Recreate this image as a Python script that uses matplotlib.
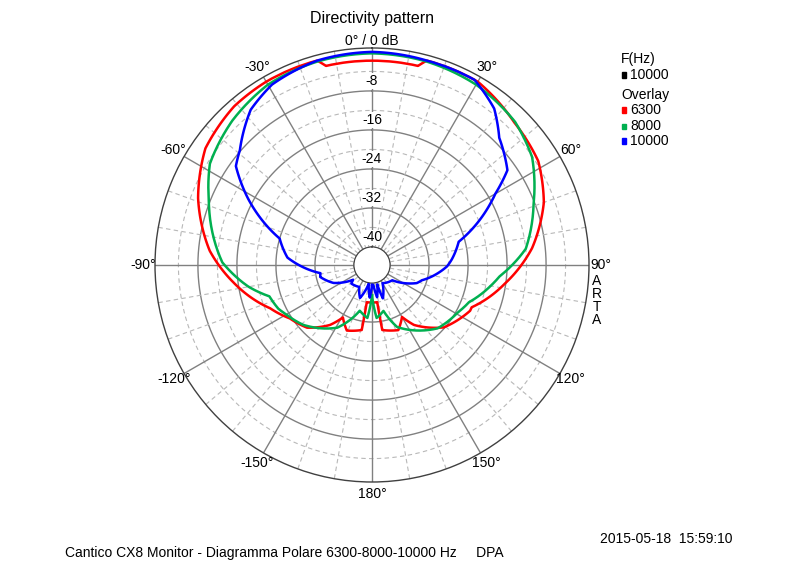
import numpy as np
import matplotlib
matplotlib.use("Agg")
import matplotlib.pyplot as plt
plt.rcParams['font.family'] = ['Liberation Sans', 'DejaVu Sans']

red_ang = [-180,-172,-171,-159,-151,-145,-134,-123,-113,-97,-85,-69,-55,-41,-30,-15,-13,
           0,13,15,30,45,58,70,84,98,113,115,131,145,150,158,171,172,180]
red = [-36,-36,-30.2,-29.3,-31.4,-28.7,-25.2,-23.6,-21,-15,-10.3,-5.5,-2,-0.6,-0.3,-0.3,-1.8,
       -1.8,-1.8,-0.3,-0.3,-2.4,-3.5,-6.2,-10.7,-16.2,-21.5,-21.5,-24.2,-28.7,-31.4,-29.3,-30.2,-36,-36]
green_ang = [-180,-175,-165,-151,-131,-120,-115,-107,-100,-89,-68,-58,-44,-30,-15,
             0,15,30,45,56,69,84,95,100,111,119,134,158,166,175,180]
green = [-37.5,-32.8,-34,-29,-25,-23.4,-22.5,-21.7,-18,-13,-7.6,-4.5,-2.5,-1,-0.5,
         -0.3,-0.5,-1,-2.2,-4.1,-8.2,-12,-17.4,-19,-22.4,-23.6,-25,-30,-34,-32.8,-37.5]
blue_ang = [-180,-176,-170,-160,-150,-132,-128,-115,-103,-99,-85,-74,-62,-54,-49,-38,-29,-15,
            0,15,29,38,45,55,60,75,86,91,107,112,127,140,150,162,165,171,176,180]
blue = [-39.6,-37,-39.8,-36.5,-38.5,-38,-38.8,-35,-32.8,-33,-26.3,-24,-15,-9.2,-7.8,-3.3,-1.4,-0.3,
        0,-0.3,-0.3,-3,-6.8,-9.8,-14.5,-25.3,-27.3,-28.3,-33,-33.8,-38.5,-39,-39.4,-36.5,-39.6,-37,-39.6,-39.6]
rings = [-40,-32,-24,-16,-8]
ang_labels = {0:"0° / 0 dB",30:"30°",60:"60°",90:"90°",120:"120°",150:"150°",180:"180°",
              -150:"-150°",-120:"-120°",-90:"-90°",-60:"-60°",-30:"-30°"}

fig = plt.figure(figsize=(8,5.68), dpi=100)
ax = fig.add_axes([155/800, (568-482)/568, 434/800, 434/568], projection='polar')
ax.set_theta_zero_location('N')
ax.set_theta_direction(-1)
ax.set_ylim(-40, 0.8)
ax.set_rorigin(-43.7)
ax.grid(False)
ax.set_xticks([]); ax.set_yticks([])
ax.spines['polar'].set_color('#404040'); ax.spines['polar'].set_linewidth(1)
ax.spines['inner'].set_color('#404040')
th = np.linspace(0, 2*np.pi, 361)
for r in rings:
    ax.plot(th, np.full_like(th, r), color='#808080', lw=1, zorder=1)
for r in [-36,-28,-20,-12,-4]:
    ax.plot(th, np.full_like(th, r), color='#b8b8b8', lw=0.8, ls=(0,(4,3)), zorder=1)
for a in range(0, 360, 10):
    t = np.deg2rad(a)
    if a % 30 == 0:
        ax.plot([t,t],[-40,0.8], color='#808080', lw=1, zorder=1)
    else:
        ax.plot([t,t],[-40,0.8], color='#b8b8b8', lw=0.8, ls=(0,(4,3)), zorder=1)
for r in rings:
    ax.text(0, r+2, str(r), ha='center', va='center', fontsize=10,
            bbox=dict(fc='white', ec='none', pad=0.5), zorder=3)
for a_, v_, c_, z_ in [(red_ang, red, '#ff0000', 4), (green_ang, green, '#00b050', 4), (blue_ang, blue, '#0000ff', 5)]:
    ln, = ax.plot(np.deg2rad(a_), v_, color=c_, lw=1.8, zorder=z_)
    ln.get_path()._interpolation_steps = 30
for a, s in ang_labels.items():
    tt = np.deg2rad(a)
    x = 372 + 229*np.sin(tt); y = 265 - 229*np.cos(tt)
    if a == 0: y = 41
    fig.text(x/800, 1-y/568, s, ha='center', va='center', fontsize=10)
for i, ch in enumerate("ARTA"):
    fig.text(597/800, 1-(281+i*13)/568, ch, ha='center', va='center', fontsize=10)
fig.text(372/800, 1-18/568, "Directivity pattern", ha='center', va='center', fontsize=11.5)
fig.text(621/800, 1-59/568, "F(Hz)", fontsize=10, va='center')
leg = [(75,'black',"10000"),(110,'#ff0000',"6300"),(126,'#00b050',"8000"),(141,'#0000ff',"10000")]
fig.text(621/800, 1-95/568, "Overlay", fontsize=10, va='center')
for y, c, s in leg:
    fig.patches.append(plt.Rectangle((622/800, 1-(y+2.5)/568), 4/800, 5/568, color=c, transform=fig.transFigure))
    fig.text(630/800, 1-y/568, s, fontsize=10, va='center')
fig.text(600/800, 1-539/568, "2015-05-18  15:59:10", fontsize=10, va='center')
fig.text(65/800, 1-553/568, "Cantico CX8 Monitor - Diagramma Polare 6300-8000-10000 Hz     DPA", fontsize=10, va='center')
fig.savefig("out.png", dpi=100)
